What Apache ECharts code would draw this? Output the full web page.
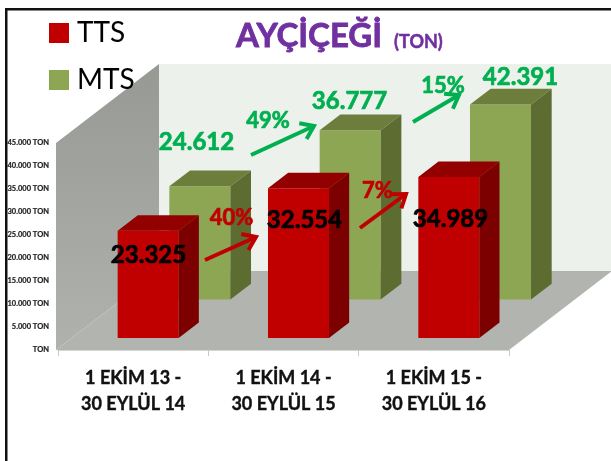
<!DOCTYPE html>
<html><head><meta charset="utf-8">
<style>html,body{margin:0;padding:0;background:#fff}#c{width:611px;height:461px}</style>
<script src="https://cdn.jsdelivr.net/npm/echarts@6/dist/echarts.min.js"></script>
</head><body><div id="c"></div>
<script>
const categories = ['1 EKİM 13 -\n30 EYLÜL 14', '1 EKİM 14 -\n30 EYLÜL 15', '1 EKİM 15 -\n30 EYLÜL 16'];
const tts = [23325, 32554, 34989];
const mts = [24612, 36777, 42391];
const tickLabels = ['TON','5.000 TON','10.000 TON','15.000 TON','20.000 TON','25.000 TON','30.000 TON','35.000 TON','40.000 TON','45.000 TON'];
const ttsChange = ['40%', '7%'];
const mtsChange = ['49%', '15%'];

const FONT = 'Lato';
const DEPTH = [103, -79];
const BAR_X = 44, BAR_W = 61;
const ttsDepth = [0.152, 0.348, 0];
const mtsDepth = [0.639, 0.84, 1.5];
const fmt = v => String(v).replace(/\B(?=(\d{3})+$)/g, '.');
const poly = (points, fill, z2) => ({type:'polygon', shape:{points}, style:{fill}, z2: z2 || 0});

function barRenderer(depth, front, top, side) {
  return function (params, api) {
    const i = api.value(0), v = api.value(1);
    const band = api.size([1, 0])[0];
    const base = api.coord([i, 0]), peak = api.coord([i, v]);
    const left = base[0] - band / 2 + BAR_X + depth[2];
    const off = d => [DEPTH[0] * d, DEPTH[1] * d];
    const f = off(depth[0]), b = off(depth[1]);
    const xl = left + f[0], xr = xl + BAR_W, yb = base[1] + f[1], yt = peak[1] + f[1];
    const ddx = b[0] - f[0], ddy = b[1] - f[1];
    return {type:'group', children:[
      poly([[xl,yt],[xr,yt],[xr,yb],[xl,yb]], front),
      poly([[xl,yt],[xr,yt],[xr+ddx,yt+ddy],[xl+ddx,yt+ddy]], top),
      poly([[xr,yt],[xr+ddx,yt+ddy],[xr+ddx,yb+ddy],[xr,yb]], side)
    ]};
  };
}

function stageRenderer(params, api) {
  const a = api.coord([0, 0]), top = api.coord([0, 45000]);
  const band = api.size([1, 0])[0];
  const x0 = a[0] - band / 2, x1 = x0 + band * categories.length, y0 = a[1], y1 = top[1];
  const bx = x0 + DEPTH[0] - 2, bdy = DEPTH[1];
  return {type:'group', children:[
    poly([[bx, y1+bdy],[x1+DEPTH[0], y1+bdy],[x1+DEPTH[0], y0+bdy],[bx, y0+bdy]], '#edf1ec'),
    poly([[x0-2, y1],[bx, y1+bdy],[bx, y0+bdy],[x0-2, y0]],
      {type:'linear',x:0,y:0,x2:0,y2:1,colorStops:[{offset:0,color:'#979994'},{offset:1,color:'#b0b2ad'}]}),
    poly([[x0-2, y0],[x1, y0],[x1+DEPTH[0], y0+bdy],[bx, y0+bdy]], '#b2b4af')
  ]};
}

function text(str, cx, cy, size, color) {
  return {type:'text', z:100, style:{text:str, x:cx, y:cy, align:'center', verticalAlign:'middle',
    font:'bold '+size+'px '+FONT, fill:color, stroke:color, lineWidth:0.7}};
}
function arrow(x0, y0, x1, y1, color) {
  const ang = Math.atan2(y1-y0, x1-x0), L = 15, A = 0.62;
  const h1 = [x1 - L*Math.cos(ang-A), y1 - L*Math.sin(ang-A)];
  const h2 = [x1 - L*Math.cos(ang+A), y1 - L*Math.sin(ang+A)];
  return {type:'group', z:99, children:[
    {type:'line', z:99, shape:{x1:x0,y1:y0,x2:x1,y2:y1}, style:{stroke:color,lineWidth:4}},
    {type:'polyline', z:99, shape:{points:[h1,[x1,y1],h2]}, style:{stroke:color,lineWidth:4,fill:null}}
  ]};
}

const GREEN = '#00b050', RED = '#c00000', BLACK = '#000';
const PURPLE = '#7030a0';
const chart = echarts.init(document.getElementById('c'), null, {renderer:'canvas'});
chart.setOption({
  animation:false,
  backgroundColor:'#fff',
  title:{left:236, top:20, padding:0,
    text:'{a|AYÇİÇEĞİ} {b|(TON)}',
    textStyle:{rich:{
      a:{fontFamily:FONT,fontWeight:'bold',fontSize:33,color:PURPLE,textBorderColor:PURPLE,textBorderWidth:0.8},
      b:{fontFamily:FONT,fontWeight:'bold',fontSize:18,color:PURPLE,textBorderColor:PURPLE,textBorderWidth:0.5,padding:[11,0,0,7]}
    }}},
  legend:{left:49, top:19, padding:0, orient:'vertical', itemWidth:20, itemHeight:20, itemGap:19,
    data:[{name:'TTS',icon:'rect'},{name:'MTS',icon:'rect'}],
    textStyle:{fontFamily:FONT,fontSize:28,color:'#000',padding:[0,0,0,3]}},
  grid:{left:58, right:102, top:143, bottom:111, containLabel:false},
  xAxis:{type:'category', data:categories, boundaryGap:true,
    axisLine:{show:true,lineStyle:{color:'#d4d5d2',width:1}},
    axisTick:{show:true,length:6,alignWithLabel:false,lineStyle:{color:'#c8c8c8'}},
    axisLabel:{interval:0,fontFamily:FONT,fontWeight:'bold',fontSize:18,color:'#111',lineHeight:26,margin:15,
      textBorderColor:'#111',textBorderWidth:0.4}},
  yAxis:{type:'value', min:0, max:45000, interval:5000,
    axisLine:{show:false},axisTick:{show:false},splitLine:{show:false},
    axisLabel:{margin:9,fontFamily:FONT,fontWeight:'bold',fontSize:7.5,color:'#222',
      textBorderColor:'#222',textBorderWidth:0.2,
      formatter:v => tickLabels[Math.round(v/5000)]}},
  series:[
    {type:'custom', name:'stage', silent:true, z:1, data:[[0,0]], renderItem:stageRenderer, encode:{x:0,y:1}},
    {type:'custom', name:'MTS', z:2, itemStyle:{color:'#8da653'},
      data:mts.map((v,i)=>[i,v]), encode:{x:0,y:1}, renderItem:barRenderer(mtsDepth,'#8da653','#6c7d3c','#5d6d32')},
    {type:'custom', name:'TTS', z:3, itemStyle:{color:'#c00000'},
      data:tts.map((v,i)=>[i,v]), encode:{x:0,y:1}, renderItem:barRenderer(ttsDepth,'#c00000','#920000','#7c0000')}
  ],
  graphic:[
    {type:'rect', z:100, shape:{x:5,y:8,width:606,height:2.5}, style:{fill:'#111'}},
    {type:'rect', z:100, shape:{x:5,y:8,width:2.5,height:453}, style:{fill:'#111'}},
    arrow(251,155,314,126,GREEN),
    arrow(413,122,459,95,GREEN),
    arrow(205,260,256,237,RED),
    arrow(360,228,406,194,RED),
    text(fmt(mts[0]),196.5,142,24,GREEN),
    text(fmt(mts[1]),349.5,101,24,GREEN),
    text(fmt(mts[2]),520.5,77,24,GREEN),
    text(fmt(tts[0]),148.5,255,24,BLACK),
    text(fmt(tts[1]),304.5,220,24,BLACK),
    text(fmt(tts[2]),450.5,219,24,BLACK),
    text(ttsChange[0],231.5,218,22,RED),
    text(ttsChange[1],377.5,191,22,RED),
    text(mtsChange[0],268,121,22,GREEN),
    text(mtsChange[1],443,86,22,GREEN)
  ]
});
</script></body></html>
